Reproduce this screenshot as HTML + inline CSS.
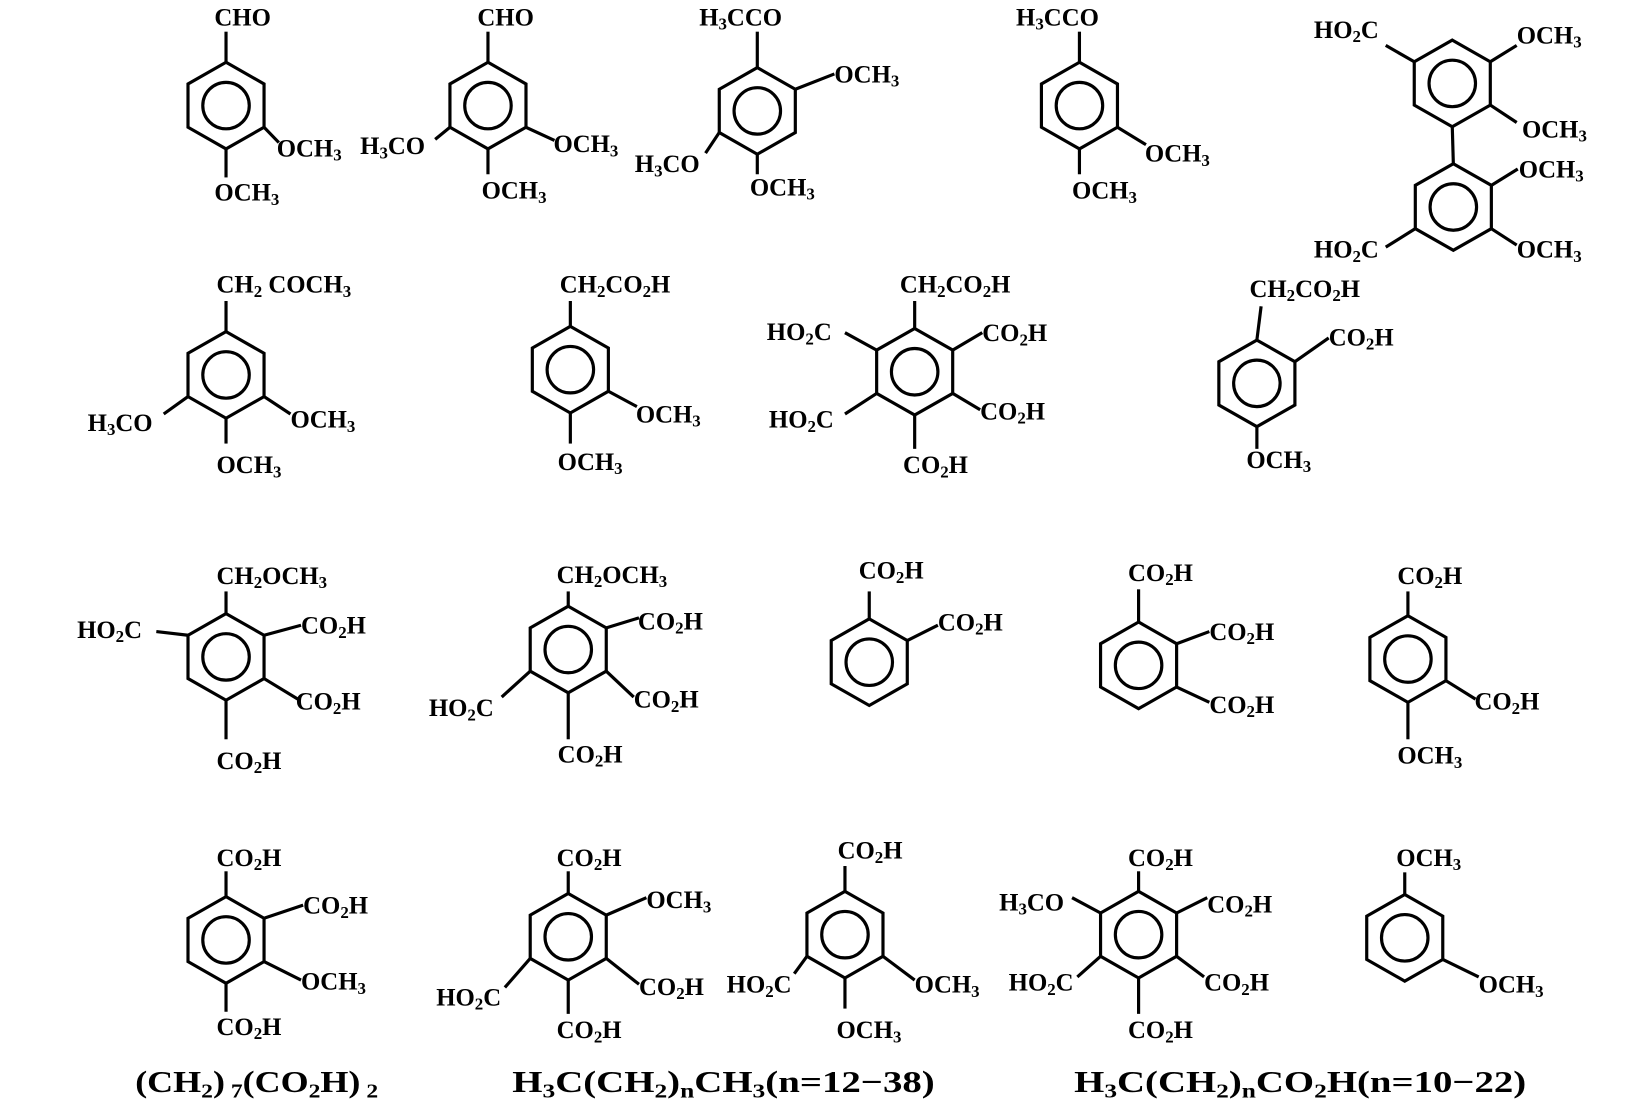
<!DOCTYPE html>
<html><head><meta charset="utf-8"><style>
html,body{margin:0;padding:0;background:#fff;}
svg{display:block}
text{font-family:"Liberation Serif",serif;font-weight:bold;font-size:23.5px;fill:#000}
.b{font-size:29px}
</style></head><body>
<svg width="1635" height="1101" viewBox="0 0 1548 1042.5" preserveAspectRatio="none" xmlns="http://www.w3.org/2000/svg">
<defs>
<g id="r" fill="none" stroke="#000" stroke-width="3">
<polygon points="0,-41 36,-20.5 36,20.5 0,41 -36,20.5 -36,-20.5"/>
<circle r="22"/>
</g>
</defs>
<g stroke="#000" stroke-width="3" fill="none">
<line x1="214" y1="59" x2="214" y2="30"/><line x1="250" y1="120.5" x2="264" y2="135"/><line x1="214" y1="141" x2="214" y2="168"/>
<line x1="462" y1="59" x2="462" y2="30"/><line x1="426" y1="120.5" x2="412" y2="132"/><line x1="498" y1="120.5" x2="525" y2="133"/><line x1="462" y1="141" x2="462" y2="165"/>
<line x1="717" y1="64" x2="717" y2="30"/><line x1="753" y1="84.5" x2="790" y2="70"/><line x1="681" y1="125.5" x2="668" y2="145"/><line x1="717" y1="146" x2="717" y2="165"/>
<line x1="1022" y1="59" x2="1022" y2="30"/><line x1="1058" y1="120.5" x2="1085" y2="137"/><line x1="1022" y1="141" x2="1022" y2="165"/>
<line x1="1375" y1="120" x2="1376" y2="155"/>
<line x1="1339" y1="58.5" x2="1312" y2="43"/><line x1="1411" y1="58.5" x2="1436" y2="43"/><line x1="1411" y1="99.5" x2="1436" y2="116"/>
<line x1="1412" y1="175.5" x2="1437" y2="160"/><line x1="1412" y1="216.5" x2="1436" y2="232"/><line x1="1340" y1="216.5" x2="1312" y2="234"/>
<line x1="214" y1="314" x2="214" y2="285"/><line x1="178" y1="375.5" x2="155" y2="392"/><line x1="250" y1="375.5" x2="275" y2="392"/><line x1="214" y1="396" x2="214" y2="420"/>
<line x1="540" y1="309" x2="540" y2="285"/><line x1="576" y1="370.5" x2="603" y2="385"/><line x1="540" y1="391" x2="540" y2="420"/>
<line x1="866" y1="311" x2="866" y2="285"/><line x1="830" y1="331.5" x2="800" y2="315"/><line x1="902" y1="331.5" x2="930" y2="315"/><line x1="830" y1="372.5" x2="800" y2="392"/><line x1="902" y1="372.5" x2="928" y2="388"/><line x1="866" y1="393" x2="866" y2="425"/>
<line x1="1190" y1="322" x2="1194" y2="290"/><line x1="1226" y1="342.5" x2="1258" y2="320"/><line x1="1190" y1="404" x2="1190" y2="425"/>
<line x1="214" y1="581" x2="214" y2="560"/><line x1="178" y1="601.5" x2="148" y2="598"/><line x1="250" y1="601.5" x2="285" y2="592"/><line x1="250" y1="642.5" x2="282" y2="662"/><line x1="214" y1="663" x2="214" y2="700"/>
<line x1="538" y1="574" x2="538" y2="560"/><line x1="574" y1="594.5" x2="605" y2="585"/><line x1="502" y1="635.5" x2="475" y2="660"/><line x1="574" y1="635.5" x2="600" y2="660"/><line x1="538" y1="656" x2="538" y2="700"/>
<line x1="823" y1="586" x2="823" y2="560"/><line x1="859" y1="606.5" x2="888" y2="592"/>
<line x1="1078" y1="589" x2="1078" y2="558"/><line x1="1114" y1="609.5" x2="1145" y2="598"/><line x1="1114" y1="650.5" x2="1145" y2="665"/>
<line x1="1333" y1="583" x2="1333" y2="560"/><line x1="1369" y1="644.5" x2="1397" y2="662"/><line x1="1333" y1="665" x2="1333" y2="700"/>
<line x1="214" y1="849" x2="214" y2="825"/><line x1="250" y1="869.5" x2="287" y2="857"/><line x1="250" y1="910.5" x2="285" y2="928"/><line x1="214" y1="931" x2="214" y2="958"/>
<line x1="538" y1="846" x2="538" y2="825"/><line x1="574" y1="866.5" x2="612" y2="850"/><line x1="502" y1="907.5" x2="478" y2="935"/><line x1="574" y1="907.5" x2="605" y2="932"/><line x1="538" y1="928" x2="538" y2="960"/>
<line x1="800" y1="844" x2="800" y2="820"/><line x1="764" y1="905.5" x2="752" y2="922"/><line x1="836" y1="905.5" x2="866" y2="928"/><line x1="800" y1="926" x2="800" y2="955"/>
<line x1="1078" y1="844" x2="1078" y2="825"/><line x1="1042" y1="864.5" x2="1015" y2="850"/><line x1="1114" y1="864.5" x2="1143" y2="850"/><line x1="1042" y1="905.5" x2="1020" y2="925"/><line x1="1114" y1="905.5" x2="1140" y2="925"/><line x1="1078" y1="926" x2="1078" y2="960"/>
<line x1="1330" y1="847" x2="1330" y2="826"/><line x1="1366" y1="908.5" x2="1400" y2="925"/>
</g>
<use href="#r" x="214" y="100"/><use href="#r" x="462" y="100"/><use href="#r" x="717" y="105"/><use href="#r" x="1022" y="100"/>
<use href="#r" x="1375" y="79"/><use href="#r" x="1376" y="196"/>
<use href="#r" x="214" y="355"/><use href="#r" x="540" y="350"/><use href="#r" x="866" y="352"/><use href="#r" x="1190" y="363"/>
<use href="#r" x="214" y="622"/><use href="#r" x="538" y="615"/><use href="#r" x="823" y="627"/><use href="#r" x="1078" y="630"/><use href="#r" x="1333" y="624"/>
<use href="#r" x="214" y="890"/><use href="#r" x="538" y="887"/><use href="#r" x="800" y="885"/><use href="#r" x="1078" y="885"/><use href="#r" x="1330" y="888"/>

<text x="203" y="24">CHO</text>
<text x="262" y="148">OCH<tspan font-size="16" dy="4">3</tspan></text>
<text x="203" y="190">OCH<tspan font-size="16" dy="4">3</tspan></text>
<text x="452" y="24">CHO</text>
<text x="341" y="146">H<tspan font-size="16" dy="4">3</tspan><tspan dy="-4">CO</tspan></text>
<text x="524" y="144">OCH<tspan font-size="16" dy="4">3</tspan></text>
<text x="456" y="188">OCH<tspan font-size="16" dy="4">3</tspan></text>
<text x="662" y="24">H<tspan font-size="16" dy="4">3</tspan><tspan dy="-4">CCO</tspan></text>
<text x="790" y="78">OCH<tspan font-size="16" dy="4">3</tspan></text>
<text x="601" y="163">H<tspan font-size="16" dy="4">3</tspan><tspan dy="-4">CO</tspan></text>
<text x="710" y="185">OCH<tspan font-size="16" dy="4">3</tspan></text>
<text x="962" y="24">H<tspan font-size="16" dy="4">3</tspan><tspan dy="-4">CCO</tspan></text>
<text x="1084" y="153">OCH<tspan font-size="16" dy="4">3</tspan></text>
<text x="1015" y="188">OCH<tspan font-size="16" dy="4">3</tspan></text>
<text x="1244" y="36">HO<tspan font-size="16" dy="4">2</tspan><tspan dy="-4">C</tspan></text>
<text x="1436" y="41">OCH<tspan font-size="16" dy="4">3</tspan></text>
<text x="1441" y="130">OCH<tspan font-size="16" dy="4">3</tspan></text>
<text x="1438" y="168">OCH<tspan font-size="16" dy="4">3</tspan></text>
<text x="1436" y="244">OCH<tspan font-size="16" dy="4">3</tspan></text>
<text x="1244" y="244">HO<tspan font-size="16" dy="4">2</tspan><tspan dy="-4">C</tspan></text>

<text x="205" y="277">CH<tspan font-size="16" dy="4">2</tspan><tspan dy="-4"> COCH</tspan><tspan font-size="16" dy="4">3</tspan></text>
<text x="83" y="408">H<tspan font-size="16" dy="4">3</tspan><tspan dy="-4">CO</tspan></text>
<text x="275" y="405">OCH<tspan font-size="16" dy="4">3</tspan></text>
<text x="205" y="448">OCH<tspan font-size="16" dy="4">3</tspan></text>
<text x="530" y="277">CH<tspan font-size="16" dy="4">2</tspan><tspan dy="-4">CO</tspan><tspan font-size="16" dy="4">2</tspan><tspan dy="-4">H</tspan></text>
<text x="602" y="400">OCH<tspan font-size="16" dy="4">3</tspan></text>
<text x="528" y="445">OCH<tspan font-size="16" dy="4">3</tspan></text>
<text x="852" y="277">CH<tspan font-size="16" dy="4">2</tspan><tspan dy="-4">CO</tspan><tspan font-size="16" dy="4">2</tspan><tspan dy="-4">H</tspan></text>
<text x="726" y="322">HO<tspan font-size="16" dy="4">2</tspan><tspan dy="-4">C</tspan></text>
<text x="930" y="323">CO<tspan font-size="16" dy="4">2</tspan><tspan dy="-4">H</tspan></text>
<text x="728" y="405">HO<tspan font-size="16" dy="4">2</tspan><tspan dy="-4">C</tspan></text>
<text x="928" y="397">CO<tspan font-size="16" dy="4">2</tspan><tspan dy="-4">H</tspan></text>
<text x="855" y="448">CO<tspan font-size="16" dy="4">2</tspan><tspan dy="-4">H</tspan></text>
<text x="1183" y="281">CH<tspan font-size="16" dy="4">2</tspan><tspan dy="-4">CO</tspan><tspan font-size="16" dy="4">2</tspan><tspan dy="-4">H</tspan></text>
<text x="1258" y="327">CO<tspan font-size="16" dy="4">2</tspan><tspan dy="-4">H</tspan></text>
<text x="1180" y="443">OCH<tspan font-size="16" dy="4">3</tspan></text>

<text x="205" y="553">CH<tspan font-size="16" dy="4">2</tspan><tspan dy="-4">OCH</tspan><tspan font-size="16" dy="4">3</tspan></text>
<text x="73" y="604">HO<tspan font-size="16" dy="4">2</tspan><tspan dy="-4">C</tspan></text>
<text x="285" y="600">CO<tspan font-size="16" dy="4">2</tspan><tspan dy="-4">H</tspan></text>
<text x="280" y="672">CO<tspan font-size="16" dy="4">2</tspan><tspan dy="-4">H</tspan></text>
<text x="205" y="728">CO<tspan font-size="16" dy="4">2</tspan><tspan dy="-4">H</tspan></text>
<text x="527" y="552">CH<tspan font-size="16" dy="4">2</tspan><tspan dy="-4">OCH</tspan><tspan font-size="16" dy="4">3</tspan></text>
<text x="604" y="596">CO<tspan font-size="16" dy="4">2</tspan><tspan dy="-4">H</tspan></text>
<text x="406" y="678">HO<tspan font-size="16" dy="4">2</tspan><tspan dy="-4">C</tspan></text>
<text x="600" y="670">CO<tspan font-size="16" dy="4">2</tspan><tspan dy="-4">H</tspan></text>
<text x="528" y="722">CO<tspan font-size="16" dy="4">2</tspan><tspan dy="-4">H</tspan></text>
<text x="813" y="548">CO<tspan font-size="16" dy="4">2</tspan><tspan dy="-4">H</tspan></text>
<text x="888" y="597">CO<tspan font-size="16" dy="4">2</tspan><tspan dy="-4">H</tspan></text>
<text x="1068" y="550">CO<tspan font-size="16" dy="4">2</tspan><tspan dy="-4">H</tspan></text>
<text x="1145" y="606">CO<tspan font-size="16" dy="4">2</tspan><tspan dy="-4">H</tspan></text>
<text x="1145" y="675">CO<tspan font-size="16" dy="4">2</tspan><tspan dy="-4">H</tspan></text>
<text x="1323" y="553">CO<tspan font-size="16" dy="4">2</tspan><tspan dy="-4">H</tspan></text>
<text x="1396" y="672">CO<tspan font-size="16" dy="4">2</tspan><tspan dy="-4">H</tspan></text>
<text x="1323" y="723">OCH<tspan font-size="16" dy="4">3</tspan></text>

<text x="205" y="820">CO<tspan font-size="16" dy="4">2</tspan><tspan dy="-4">H</tspan></text>
<text x="287" y="865">CO<tspan font-size="16" dy="4">2</tspan><tspan dy="-4">H</tspan></text>
<text x="285" y="937">OCH<tspan font-size="16" dy="4">3</tspan></text>
<text x="205" y="980">CO<tspan font-size="16" dy="4">2</tspan><tspan dy="-4">H</tspan></text>
<text x="527" y="820">CO<tspan font-size="16" dy="4">2</tspan><tspan dy="-4">H</tspan></text>
<text x="612" y="860">OCH<tspan font-size="16" dy="4">3</tspan></text>
<text x="413" y="952">HO<tspan font-size="16" dy="4">2</tspan><tspan dy="-4">C</tspan></text>
<text x="605" y="942">CO<tspan font-size="16" dy="4">2</tspan><tspan dy="-4">H</tspan></text>
<text x="527" y="983">CO<tspan font-size="16" dy="4">2</tspan><tspan dy="-4">H</tspan></text>
<text x="793" y="813">CO<tspan font-size="16" dy="4">2</tspan><tspan dy="-4">H</tspan></text>
<text x="688" y="940">HO<tspan font-size="16" dy="4">2</tspan><tspan dy="-4">C</tspan></text>
<text x="866" y="940">OCH<tspan font-size="16" dy="4">3</tspan></text>
<text x="792" y="983">OCH<tspan font-size="16" dy="4">3</tspan></text>
<text x="1068" y="820">CO<tspan font-size="16" dy="4">2</tspan><tspan dy="-4">H</tspan></text>
<text x="946" y="862">H<tspan font-size="16" dy="4">3</tspan><tspan dy="-4">CO</tspan></text>
<text x="1143" y="864">CO<tspan font-size="16" dy="4">2</tspan><tspan dy="-4">H</tspan></text>
<text x="955" y="938">HO<tspan font-size="16" dy="4">2</tspan><tspan dy="-4">C</tspan></text>
<text x="1140" y="938">CO<tspan font-size="16" dy="4">2</tspan><tspan dy="-4">H</tspan></text>
<text x="1068" y="983">CO<tspan font-size="16" dy="4">2</tspan><tspan dy="-4">H</tspan></text>
<text x="1322" y="820">OCH<tspan font-size="16" dy="4">3</tspan></text>
<text x="1400" y="940">OCH<tspan font-size="16" dy="4">3</tspan></text>

<text class="b" x="128" y="1034" textLength="230" lengthAdjust="spacingAndGlyphs">(CH<tspan font-size="19" dy="5">2</tspan><tspan dy="-5">)</tspan><tspan font-size="19" dy="5"> 7</tspan><tspan dy="-5">(CO</tspan><tspan font-size="19" dy="5">2</tspan><tspan dy="-5">H)</tspan><tspan font-size="19" dy="5"> 2</tspan></text>
<text class="b" x="485" y="1034" textLength="400" lengthAdjust="spacingAndGlyphs">H<tspan font-size="19" dy="5">3</tspan><tspan dy="-5">C(CH</tspan><tspan font-size="19" dy="5">2</tspan><tspan dy="-5">)</tspan><tspan font-size="19" dy="5">n</tspan><tspan dy="-5">CH</tspan><tspan font-size="19" dy="5">3</tspan><tspan dy="-5">(n=12−38)</tspan></text>
<text class="b" x="1017" y="1034" textLength="428" lengthAdjust="spacingAndGlyphs">H<tspan font-size="19" dy="5">3</tspan><tspan dy="-5">C(CH</tspan><tspan font-size="19" dy="5">2</tspan><tspan dy="-5">)</tspan><tspan font-size="19" dy="5">n</tspan><tspan dy="-5">CO</tspan><tspan font-size="19" dy="5">2</tspan><tspan dy="-5">H(n=10−22)</tspan></text>
</svg>
</body></html>
